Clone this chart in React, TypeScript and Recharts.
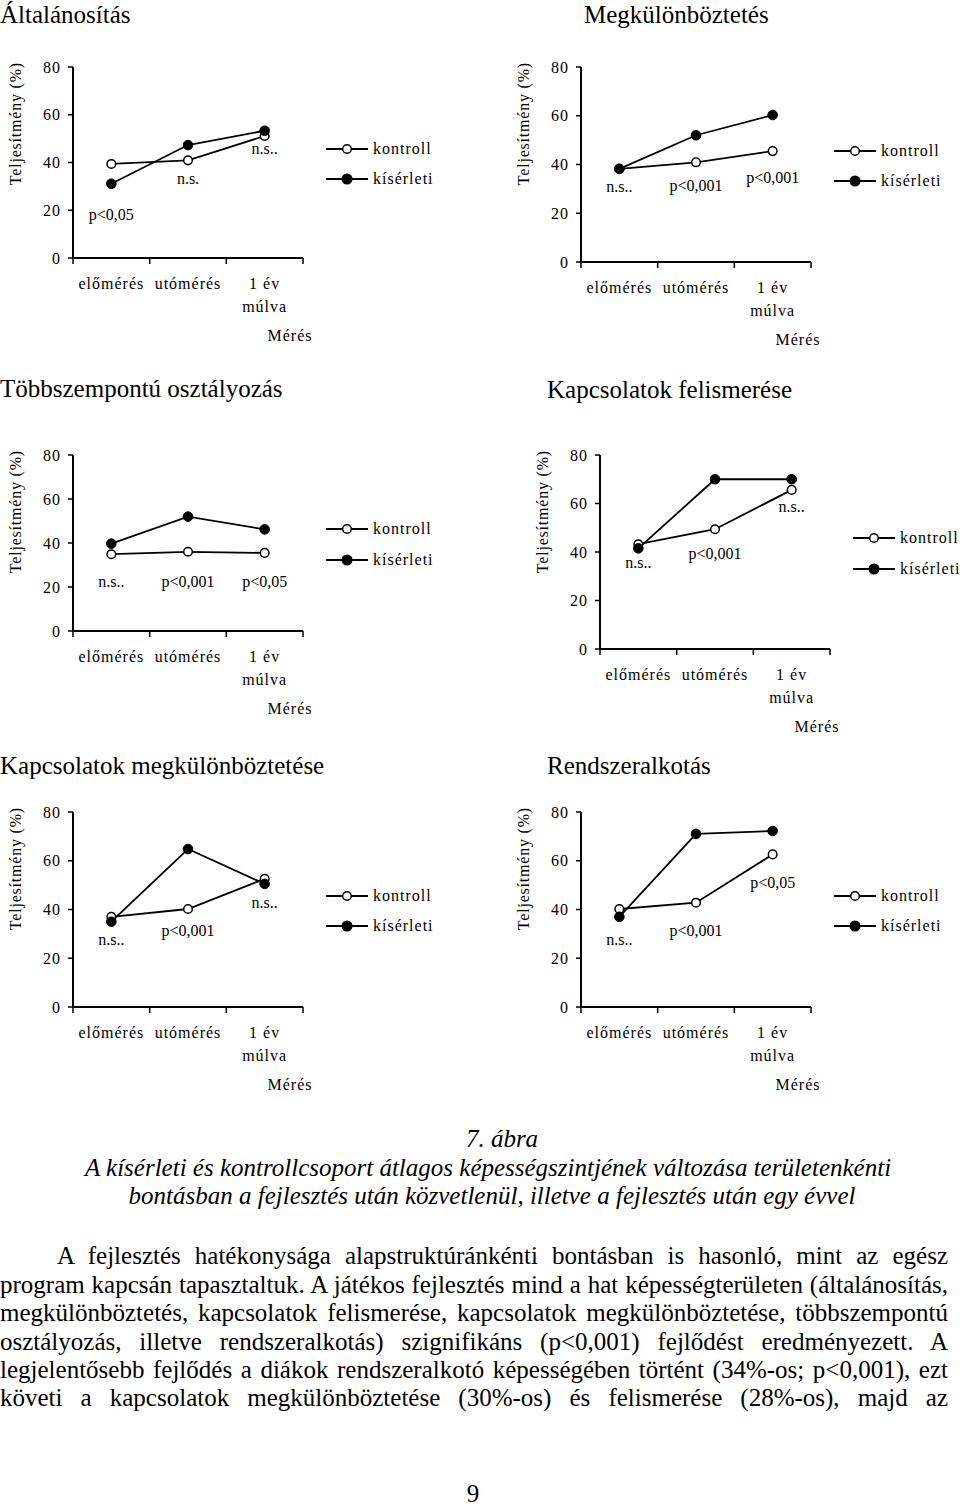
import React from 'react';
import { LineChart, Line, XAxis, YAxis, ReferenceDot, Legend } from 'recharts';

// ---------- shared data ----------
const CATEGORIES = ['előmérés', 'utómérés', '1 év\nmúlva'];
const SERIES_NAMES = ['kontroll', 'kísérleti'];
const Y_TICKS = [0, 20, 40, 60, 80];
const Y_TITLE = 'Teljesítmény (%)';
const X_TITLE = 'Mérés';

// Általánosítás
const ALT_TITLE = 'Általánosítás';
const ALT_KONTROLL = [39.4, 40.9, 51.1];
const ALT_KISERLETI = [31.1, 47.3, 53.3];
const ALT_SIG = ['p<0,05', 'n.s.', 'n.s..'];
const ALT_SIG_Y = [18, 33.1, 45.7];

// Megkülönböztetés
const MEG_TITLE = 'Megkülönböztetés';
const MEG_KONTROLL = [38.2, 40.9, 45.5];
const MEG_KISERLETI = [38.2, 52.0, 60.3];
const MEG_SIG = ['n.s..', 'p<0,001', 'p<0,001'];
const MEG_SIG_Y = [30.9, 31.2, 34.6];

// Többszempontú osztályozás
const TOB_TITLE = 'Többszempontú osztályozás';
const TOB_KONTROLL = [34.9, 36.0, 35.5];
const TOB_KISERLETI = [39.7, 52.0, 46.2];
const TOB_SIG = ['n.s..', 'p<0,001', 'p<0,05'];
const TOB_SIG_Y = [22.4, 22.4, 22.4];

// Kapcsolatok felismerése
const KFE_TITLE = 'Kapcsolatok felismerése';
const KFE_KONTROLL = [43.2, 49.4, 65.6];
const KFE_KISERLETI = [41.5, 70.0, 70.0];
const KFE_SIG = ['n.s..', 'p<0,001', 'n.s..'];
const KFE_SIG_Y = [35.3, 39.2, 58.7];

// Kapcsolatok megkülönböztetése
const KME_TITLE = 'Kapcsolatok megkülönböztetése';
const KME_KONTROLL = [37.0, 40.2, 52.6];
const KME_KISERLETI = [35.0, 64.8, 50.5];
const KME_SIG = ['n.s..', 'p<0,001', 'n.s..'];
const KME_SIG_Y = [27.5, 31.2, 42.5];

// Rendszeralkotás
const REN_TITLE = 'Rendszeralkotás';
const REN_KONTROLL = [40.2, 42.8, 62.6];
const REN_KISERLETI = [37.0, 71.0, 72.2];
const REN_SIG = ['n.s..', 'p<0,001', 'p<0,05'];
const REN_SIG_Y = [27.5, 31.2, 51.0];

// ---------- text ----------
const FIG_NUMBER = '7. ábra';
const CAPTION_LINES = [
  'A kísérleti és kontrollcsoport átlagos képességszintjének változása területenkénti',
  'bontásban a fejlesztés után közvetlenül, illetve a fejlesztés után egy évvel',
];
const BODY_LINES = [
  'A fejlesztés hatékonysága alapstruktúránkénti bontásban is hasonló, mint az egész',
  'program kapcsán tapasztaltuk. A játékos fejlesztés mind a hat képességterületen (általánosítás,',
  'megkülönböztetés, kapcsolatok felismerése, kapcsolatok megkülönböztetése, többszempontú',
  'osztályozás, illetve rendszeralkotás) szignifikáns (p<0,001) fejlődést eredményezett. A',
  'legjelentősebb fejlődés a diákok rendszeralkotó képességében történt (34%-os; p<0,001), ezt',
  'követi a kapcsolatok megkülönböztetése (30%-os) és felismerése (28%-os), majd az',
];
const PAGE_NUMBER = '9';

// ---------- layout ----------
const FONT = '"Liberation Serif", "Times New Roman", serif';
const YW = 73;
const PW = 230;
const CW = 453;
const MT = 10;
const XH = 95;

const LAYOUTS = {
  alt: { x: 0, y: 57, plotH: 191, titleX: 0, titleBase: 23 },
  meg: { x: 508, y: 57, plotH: 195, titleX: 584, titleBase: 23 },
  tob: { x: 0, y: 445, plotH: 176, titleX: 0, titleBase: 397 },
  kfe: { x: 527, y: 445, plotH: 194, titleX: 547, titleBase: 398 },
  kme: { x: 0, y: 802, plotH: 195, titleX: 0, titleBase: 774 },
  ren: { x: 508, y: 802, plotH: 195, titleX: 547, titleBase: 774 },
};

const XTick = (props: any) => {
  const { x, y, payload, index } = props;
  const bw = PW / CATEGORIES.length;
  const lines = String(payload.value).split('\n');
  return (
    <g>
      {index === 0 && (
        <line x1={x - bw / 2} x2={x - bw / 2} y1={y} y2={y + 6} stroke="#000" strokeWidth={1.5} />
      )}
      <line x1={x + bw / 2} x2={x + bw / 2} y1={y} y2={y + 6} stroke="#000" strokeWidth={1.5} />
      {lines.map((l, i) => (
        <text
          key={i}
          x={x}
          y={y + 31 + i * 23}
          textAnchor="middle"
          fontSize={16}
          fill="#000"
          style={{ letterSpacing: '1px' }}
        >
          {l}
        </text>
      ))}
    </g>
  );
};

const LegendContent = () => (
  <div style={{ fontFamily: FONT }}>
    {SERIES_NAMES.map((name, i) => (
      <div key={name} style={{ display: 'flex', alignItems: 'center', height: 30.5 }}>
        <svg width={42} height={12} style={{ display: 'block' }}>
          <line x1={0} x2={42} y1={6} y2={6} stroke="#000" strokeWidth={1.8} />
          <circle cx={21} cy={6} r={i === 0 ? 4.3 : 4.8} fill={i === 0 ? '#fff' : '#000'} stroke="#000" strokeWidth={1.5} />
        </svg>
        <span style={{ marginLeft: 5, fontSize: 16, letterSpacing: '1px', color: '#000', whiteSpace: 'nowrap' }}>{name}</span>
      </div>
    ))}
  </div>
);

function Panel({ title, kontroll, kiserleti, sig, sigY, layout }: any) {
  const data = CATEGORIES.map((c, i) => ({ cat: c, kontroll: kontroll[i], kiserleti: kiserleti[i] }));
  const H = MT + layout.plotH + XH;
  return (
    <>
      <div
        style={{
          position: 'absolute',
          left: layout.titleX,
          top: layout.titleBase - 21,
          fontSize: 25,
          lineHeight: '25px',
          whiteSpace: 'nowrap',
        }}
      >
        {title}
      </div>
      <div style={{ position: 'absolute', left: layout.x, top: layout.y }}>
        <LineChart
          width={CW}
          height={H}
          data={data}
          margin={{ top: MT, right: CW - YW - PW, bottom: 0, left: 0 }}
        >
          <XAxis
            dataKey="cat"
            scale="band"
            interval={0}
            height={XH}
            tickLine={false}
            tickSize={0}
            tickMargin={0}
            tick={<XTick />}
            axisLine={{ stroke: '#000', strokeWidth: 2 }}
            label={(p: any) => {
              const vb = p.viewBox || {};
              return (
                <text
                  x={vb.x + vb.width - 13}
                  y={vb.y + 83}
                  textAnchor="middle"
                  fontSize={16}
                  fill="#000"
                  style={{ letterSpacing: '1px' }}
                >
                  {X_TITLE}
                </text>
              );
            }}
          />
          <YAxis
            type="number"
            domain={[0, 80]}
            ticks={Y_TICKS}
            width={YW}
            tickSize={5}
            tickMargin={7}
            tick={{ fill: '#000', fontSize: 16, style: { letterSpacing: '1px' } }}
            tickLine={{ stroke: '#000', strokeWidth: 1.5 }}
            axisLine={{ stroke: '#000', strokeWidth: 2 }}
            label={(p: any) => {
              const vb = p.viewBox || {};
              const lx = vb.x + vb.width - 52;
              const ly = vb.y - 5;
              return (
                <text
                  x={lx}
                  y={ly}
                  transform={`rotate(-90 ${lx} ${ly})`}
                  textAnchor="end"
                  fontSize={16}
                  fill="#000"
                  style={{ letterSpacing: '0.8px' }}
                >
                  {Y_TITLE}
                </text>
              );
            }}
          />
          <Line
            type="linear"
            dataKey="kontroll"
            name={SERIES_NAMES[0]}
            stroke="#000"
            strokeWidth={1.8}
            dot={{ r: 4.3, fill: '#fff', stroke: '#000', strokeWidth: 1.5 }}
            activeDot={false}
            isAnimationActive={false}
          />
          <Line
            type="linear"
            dataKey="kiserleti"
            name={SERIES_NAMES[1]}
            stroke="#000"
            strokeWidth={1.8}
            dot={{ r: 4.8, fill: '#000', stroke: '#000', strokeWidth: 1 }}
            activeDot={false}
            isAnimationActive={false}
          />
          {sig.map((s: string, i: number) => (
            <ReferenceDot
              key={i}
              x={CATEGORIES[i]}
              y={sigY[i]}
              r={0}
              shape={(p: any) => (
                <text x={p.cx} y={p.cy} dy={5} textAnchor="middle" fontSize={16} fill="#000">
                  {s}
                </text>
              )}
            />
          ))}
          <Legend
            layout="vertical"
            align="center"
            verticalAlign="middle"
            content={<LegendContent />}
            wrapperStyle={{
              left: YW + PW + 23,
              top: MT + layout.plotH / 2 - 14 - 15.25,
              width: 160,
              height: 61,
            }}
          />
        </LineChart>
      </div>
    </>
  );
}

export default function App() {
  return (
    <div
      style={{
        position: 'absolute',
        left: 0,
        top: 0,
        width: 960,
        height: 1506,
        overflow: 'hidden',
        background: '#fff',
        fontFamily: FONT,
        color: '#000',
      }}
    >
      <Panel title={ALT_TITLE} kontroll={ALT_KONTROLL} kiserleti={ALT_KISERLETI} sig={ALT_SIG} sigY={ALT_SIG_Y} layout={LAYOUTS.alt} />
      <Panel title={MEG_TITLE} kontroll={MEG_KONTROLL} kiserleti={MEG_KISERLETI} sig={MEG_SIG} sigY={MEG_SIG_Y} layout={LAYOUTS.meg} />
      <Panel title={TOB_TITLE} kontroll={TOB_KONTROLL} kiserleti={TOB_KISERLETI} sig={TOB_SIG} sigY={TOB_SIG_Y} layout={LAYOUTS.tob} />
      <Panel title={KFE_TITLE} kontroll={KFE_KONTROLL} kiserleti={KFE_KISERLETI} sig={KFE_SIG} sigY={KFE_SIG_Y} layout={LAYOUTS.kfe} />
      <Panel title={KME_TITLE} kontroll={KME_KONTROLL} kiserleti={KME_KISERLETI} sig={KME_SIG} sigY={KME_SIG_Y} layout={LAYOUTS.kme} />
      <Panel title={REN_TITLE} kontroll={REN_KONTROLL} kiserleti={REN_KISERLETI} sig={REN_SIG} sigY={REN_SIG_Y} layout={LAYOUTS.ren} />

      <div style={{ position: 'absolute', left: 102, top: 1147 - 21, width: 800, textAlign: 'center', fontSize: 25, lineHeight: '25px', fontStyle: 'italic' }}>
        {FIG_NUMBER}
      </div>
      <div style={{ position: 'absolute', left: 85, top: 1175.5 - 21, width: 800, textAlign: 'center', fontSize: 25, lineHeight: '25px', fontStyle: 'italic', whiteSpace: 'nowrap' }}>
        {CAPTION_LINES[0]}
      </div>
      <div style={{ position: 'absolute', left: 92, top: 1204 - 21, width: 800, textAlign: 'center', fontSize: 25, lineHeight: '25px', fontStyle: 'italic', whiteSpace: 'nowrap' }}>
        {CAPTION_LINES[1]}
      </div>

      <div style={{ position: 'absolute', left: 0, top: 1265 - 22.6, width: 948, fontSize: 25, lineHeight: '28.4px' }}>
        {BODY_LINES.map((l, i) => (
          <div
            key={i}
            style={{
              textAlign: 'justify',
              textAlignLast: 'justify' as any,
              paddingLeft: i === 0 ? 57 : 0,
            }}
          >
            {l}
          </div>
        ))}
      </div>

      <div style={{ position: 'absolute', left: 373, top: 1484, width: 200, textAlign: 'center', fontSize: 25, lineHeight: '20px' }}>
        {PAGE_NUMBER}
      </div>
    </div>
  );
}
